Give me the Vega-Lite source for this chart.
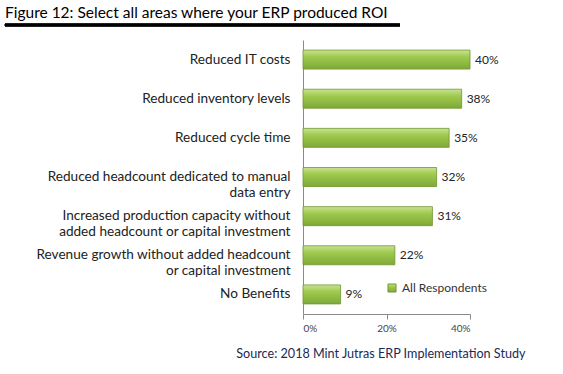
{
  "$schema": "https://vega.github.io/schema/vega-lite/v6.json",
  "autosize": "none",
  "width": 167,
  "height": 274,
  "padding": {"left": 303, "top": 40, "right": 93, "bottom": 60},
  "background": "white",
  "config": {"view": {"stroke": null}, "font": "Lato"},
  "title": {
    "text": "Figure 12: Select all areas where your ERP produced ROI",
    "anchor": "start",
    "frame": "group",
    "dx": -298,
    "offset": 0,
    "dy": 10,
    "baseline": "alphabetic",
    "fontSize": 15.5,
    "fontWeight": "normal",
    "color": "#000000",
    "font": "Lato"
  },
  "data": {
    "values": [
      {"area": "Reduced IT costs", "pct": 0.40, "series": "All Respondents"},
      {"area": "Reduced inventory levels", "pct": 0.38, "series": "All Respondents"},
      {"area": "Reduced cycle time", "pct": 0.35, "series": "All Respondents"},
      {"area": "Reduced headcount dedicated to manual|data entry", "pct": 0.32, "series": "All Respondents"},
      {"area": "Increased production capacity without|added headcount or capital investment", "pct": 0.31, "series": "All Respondents"},
      {"area": "Revenue growth without added headcount|or capital investment", "pct": 0.22, "series": "All Respondents"},
      {"area": "No Benefits", "pct": 0.09, "series": "All Respondents"}
    ]
  },
  "layer": [
    {
      "mark": {
        "type": "bar", "size": 19, "strokeWidth": 0.8,
        "fill": {"gradient": "linear", "x1": 0, "y1": 0, "x2": 0, "y2": 1, "stops": [{"offset": 0, "color": "#c9e394"}, {"offset": 0.35, "color": "#9fca4e"}, {"offset": 1, "color": "#7fa937"}]}
      },
      "encoding": {
        "y": {
          "field": "area", "type": "nominal", "sort": null,
          "axis": {
            "title": null,
            "labelExpr": "split(datum.label, '|')",
            "labelLineHeight": 16,
            "labelFontSize": 13.6,
            "labelColor": "#222222",
            "labelPadding": 13,
            "labelLimit": 300,
            "ticks": false,
            "domainColor": "#8a8a8a",
            "labelFont": "Lato"
          }
        },
        "x": {
          "field": "pct", "type": "quantitative",
          "scale": {"domain": [0, 0.4]},
          "axis": {
            "values": [0, 0.2, 0.4],
            "format": ".0%",
            "grid": false,
            "labelFontSize": 10,
            "labelColor": "#444444",
            "tickSize": 5,
            "tickColor": "#8a8a8a",
            "domainColor": "#8a8a8a",
            "labelPadding": 4,
            "title": "Source: 2018 Mint Jutras ERP Implementation Study",
            "titleAnchor": "end",
            "titleX": 222,
            "titleY": 43,
            "titleBaseline": "alphabetic",
            "titleFontSize": 12.6,
            "titleFontWeight": "normal",
            "titleColor": "#1b2a55",
            "titleFont": "Lato"
          }
        },
        "stroke": {
          "field": "series", "type": "nominal",
          "scale": {"range": ["#6f9630"]},
          "legend": {
            "title": null,
            "orient": "none",
            "legendX": 83,
            "legendY": 242,
            "symbolType": "square",
            "symbolSize": 64,
            "symbolStrokeWidth": 1,
            "labelFontSize": 12,
            "labelColor": "#333333",
            "labelFont": "Lato",
            "labelOffset": 4,
            "encode": {"symbols": {"update": {"fill": {"value": "#9fca4e"}, "stroke": {"value": "#6f9630"}}}}
          }
        }
      }
    },
    {
      "mark": {"type": "text", "align": "left", "baseline": "middle", "dx": 5, "fontSize": 12, "color": "#222222", "font": "Lato"},
      "encoding": {
        "y": {"field": "area", "type": "nominal", "sort": null},
        "x": {"field": "pct", "type": "quantitative"},
        "text": {"field": "pct", "type": "quantitative", "format": ".0%"}
      }
    },
    {
      "mark": {"type": "rule", "stroke": "#000000", "strokeWidth": 2.5, "clip": false},
      "encoding": {
        "x": {"datum": -0.714},
        "x2": {"datum": 0.232},
        "y": {"value": -15}
      }
    }
  ]
}
